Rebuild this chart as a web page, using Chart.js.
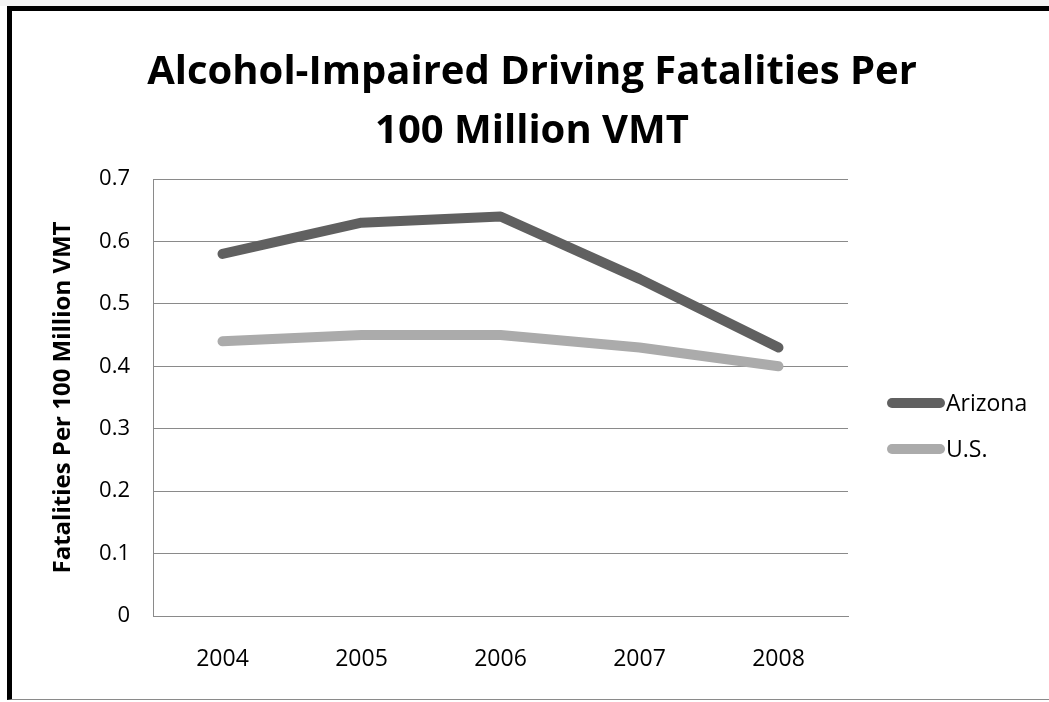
<!DOCTYPE html>
<html>
<head>
<meta charset="utf-8">
<script src="https://cdn.jsdelivr.net/npm/chart.js@4.4.0/dist/chart.umd.min.js"></script>
<style>
html,body{margin:0;padding:0;width:1049px;height:702px;overflow:hidden;background:#ffffff;}
#topstrip{position:absolute;left:0;top:0;width:1049px;height:6px;background:#f4f4f4;}
#frame{position:absolute;left:7px;top:6px;width:1100px;height:694px;border-left:5px solid #000;border-top:5px solid #000;border-bottom:1px solid #8a8a8a;box-sizing:border-box;background:#fff;}
#wrap{position:absolute;left:12px;top:11px;width:1040px;height:689px;}
</style>
</head>
<body>
<div id="topstrip"></div>
<div id="frame"></div>
<div id="wrap"><canvas id="c" width="1040" height="689"></canvas></div>
<script>
const titleLines = ["Alcohol-Impaired Driving Fatalities Per", "100 Million VMT"];
const yAxisTitle = "Fatalities Per 100 Million VMT";
const years = ["2004", "2005", "2006", "2007", "2008"];
const arizona = [0.58, 0.63, 0.64, 0.54, 0.43];
const us = [0.44, 0.45, 0.45, 0.43, 0.40];
const seriesNames = ["Arizona", "U.S."];
const seriesColors = ["#606060", "#ababab"];

const FONT = "'Open Sans', 'Liberation Sans', sans-serif";

const sideLegend = {
  id: 'sideLegend',
  afterDraw(chart) {
    const ctx = chart.ctx;
    const area = chart.chartArea;
    const x0 = area.right + 39, x1 = area.right + 97;
    const ys = [392, 438];
    chart.data.datasets.forEach((ds, i) => {
      ctx.save();
      ctx.strokeStyle = ds.borderColor;
      ctx.lineWidth = 10;
      ctx.lineCap = 'round';
      ctx.beginPath();
      ctx.moveTo(x0 + 5, ys[i]);
      ctx.lineTo(x1 - 5, ys[i]);
      ctx.stroke();
      ctx.fillStyle = '#000';
      ctx.font = "23px " + FONT;
      ctx.textBaseline = 'middle';
      ctx.textAlign = 'left';
      ctx.fillText(ds.label, x1 + 1, ys[i] + 1);
      ctx.restore();
    });
  }
};

new Chart(document.getElementById('c'), {
  type: 'line',
  data: {
    labels: years,
    datasets: [
      {label: seriesNames[0], data: arizona, borderColor: seriesColors[0], borderWidth: 10, pointRadius: 0, tension: 0, borderCapStyle: 'round', borderJoinStyle: 'round'},
      {label: seriesNames[1], data: us, borderColor: seriesColors[1], borderWidth: 10, pointRadius: 0, tension: 0, borderCapStyle: 'round', borderJoinStyle: 'round'}
    ]
  },
  options: {
    responsive: false,
    animation: false,
    layout: {padding: {left: 0, right: 0, top: 0, bottom: 0}},
    plugins: {
      legend: {display: false},
      tooltip: {enabled: false},
      title: {
        display: true,
        text: titleLines,
        color: '#000',
        font: {family: FONT, size: 40, weight: 'bold', lineHeight: 1.475},
        padding: {top: 32, bottom: 18}
      }
    },
    scales: {
      x: {
        offset: true,
        grid: {display: false, drawTicks: false},
        border: {display: true, color: '#8a8a8a', width: 1},
        ticks: {color: '#000', font: {family: FONT, size: 23}, padding: 30},
        afterFit(scale) { scale.height = 84; }
      },
      y: {
        min: 0, max: 0.7,
        ticks: {stepSize: 0.1, color: '#000', font: {family: FONT, size: 22}, padding: 23,
          callback: v => (Math.round(v * 10) / 10).toString()},
        grid: {color: '#8a8a8a', lineWidth: 1, drawTicks: false},
        border: {display: true, color: '#8a8a8a', width: 1},
        title: {display: true, text: yAxisTitle, color: '#000', font: {family: FONT, size: 24, weight: 'bold', lineHeight: 1.2}, padding: {top: 37, bottom: 0}},
        afterFit(scale) { scale.width = 141; }
      },
      rightSpace: {
        type: 'linear',
        position: 'right',
        display: true,
        grid: {display: false, drawTicks: false},
        border: {display: false},
        ticks: {display: false},
        afterFit(scale) { scale.width = 204; }
      }
    }
  },
  plugins: [sideLegend]
});
</script>
</body>
</html>
